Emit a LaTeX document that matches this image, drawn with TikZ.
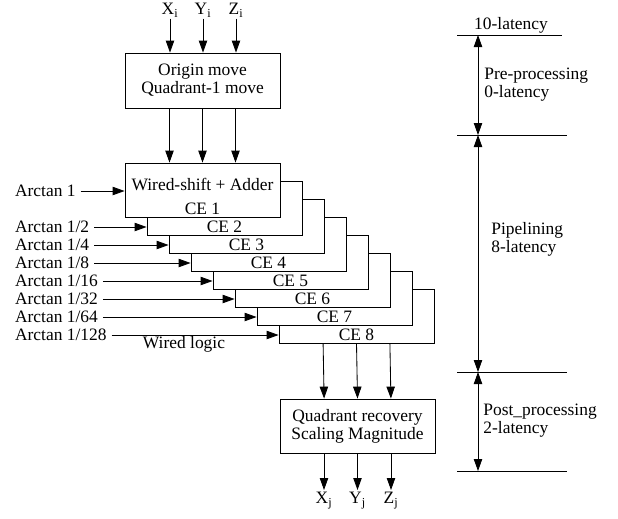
\documentclass[tikz,border=0pt]{standalone}
\usepackage{fontspec}
\setmainfont{Liberation Serif}
\usetikzlibrary{arrows.meta,positioning}

\begin{document}
\begin{tikzpicture}[x=2.5mm,y=-2.5mm,
  font=\fontsize{12.4}{12.8}\selectfont, line width=0.6pt,
  blk/.style={draw, fill=white, minimum width=38.75mm, minimum height=13.5mm, inner sep=0pt},
  arr/.style={-{Triangle[length=3mm,width=2.1mm]}},
  darr/.style={{Triangle[length=3mm,width=2.1mm]}-{Triangle[length=3mm,width=2.1mm]}},
  side/.style={anchor=west, align=left, inner sep=0pt}]
  \useasboundingbox (0,0) rectangle (61.8,51.8);

  % inputs and pre-processing
  \node[anchor=south, inner sep=0.5pt] (xi) at (17.0,1.85) {X\textsubscript{i}};
  \node[anchor=south, inner sep=0.5pt] (yi) at (20.3,1.85) {Y\textsubscript{i}};
  \node[anchor=south, inner sep=0.5pt] (zi) at (23.6,1.85) {Z\textsubscript{i}};
  \node[blk, minimum height=13.75mm, align=center] (orig) at (20.25,8.05) {Origin move\\Quadrant-1 move};
  \foreach \n in {xi,yi,zi}
    \draw[arr] (\n.south) -- (\n.south |- orig.north);

  % CE stages, back to front
  \foreach \k in {8,7,...,1} {
    \node[blk] (ce\k) at ({20.25+2.2*(\k-1)},{19.0+1.8*(\k-1)}) {};
    \node (cet\k) at ([yshift=2.25mm]ce\k.south) {CE \k};
  }
  \node (wsa) at ([yshift=-5.5mm]ce1.north) {Wired-shift + Adder};
  \foreach \d in {-8.25mm,0mm,8.25mm}
    \draw[arr] ([xshift=\d]orig.south) -- ([xshift=\d]ce1.north);

  % arctan constants
  \node[anchor=west] (a1) at (1.0,19.1) {Arctan 1};
  \draw[arr] (a1.east) -- (a1.east -| ce1.west);
  \foreach \k/\t in {2/2,3/4,4/8,5/16,6/32,7/64,8/128} {
    \node[anchor=west] (a\k) at (1.0,{22.7+1.8*(\k-2)}) {Arctan 1/\t};
    \draw[arr] (a\k.east) -- (a\k.east -| ce\k.west);
  }
  \node (wl) at (18.4,34.4) {Wired logic};

  % post-processing and outputs
  \node[blk, align=center] (quad) at (35.75,42.6) {Quadrant recovery\\Scaling Magnitude};
  \foreach \d in {-8.35mm,0mm,8.35mm}
    \draw[arr] ([xshift=\d]ce8.south) -- ([xshift=\d]quad.south |- quad.north);
  \node[anchor=north, inner sep=1.5pt] (xj) at (32.4,49.0) {X\textsubscript{j}};
  \node[anchor=north, inner sep=1.5pt] (yj) at (35.75,49.0) {Y\textsubscript{j}};
  \node[anchor=north, inner sep=1.5pt] (zj) at (39.1,49.0) {Z\textsubscript{j}};
  \foreach \n in {xj,yj,zj}
    \draw[arr] (quad.south -| \n.north) -- (\n.north);

  % latency scale
  \coordinate (t0) at (47.8,3.5);
  \coordinate (t1) at (47.8,13.5);
  \coordinate (t2) at (47.8,37.2);
  \coordinate (t3) at (47.8,47.1);
  \draw (45.7,3.5) -- (56.2,3.5);
  \foreach \y in {13.5,37.2,47.1}
    \draw (45.7,\y) -- (56.7,\y);
  \draw[darr] (t0) -- (t1);
  \draw[darr] (t1) -- (t2);
  \draw[darr] (t2) -- (t3);
  \node[anchor=south, inner sep=1pt] (lat) at (51.1,3.5) {10-latency};
  \node[side] (pre) at (48.4,8.5) {Pre-processing\\0-latency};
  \node[side] (pipe) at (49.1,23.9) {Pipelining\\8-latency};
  \node[side] (post) at (48.3,42.1) {Post\_processing\\2-latency};
\end{tikzpicture}
\end{document}
